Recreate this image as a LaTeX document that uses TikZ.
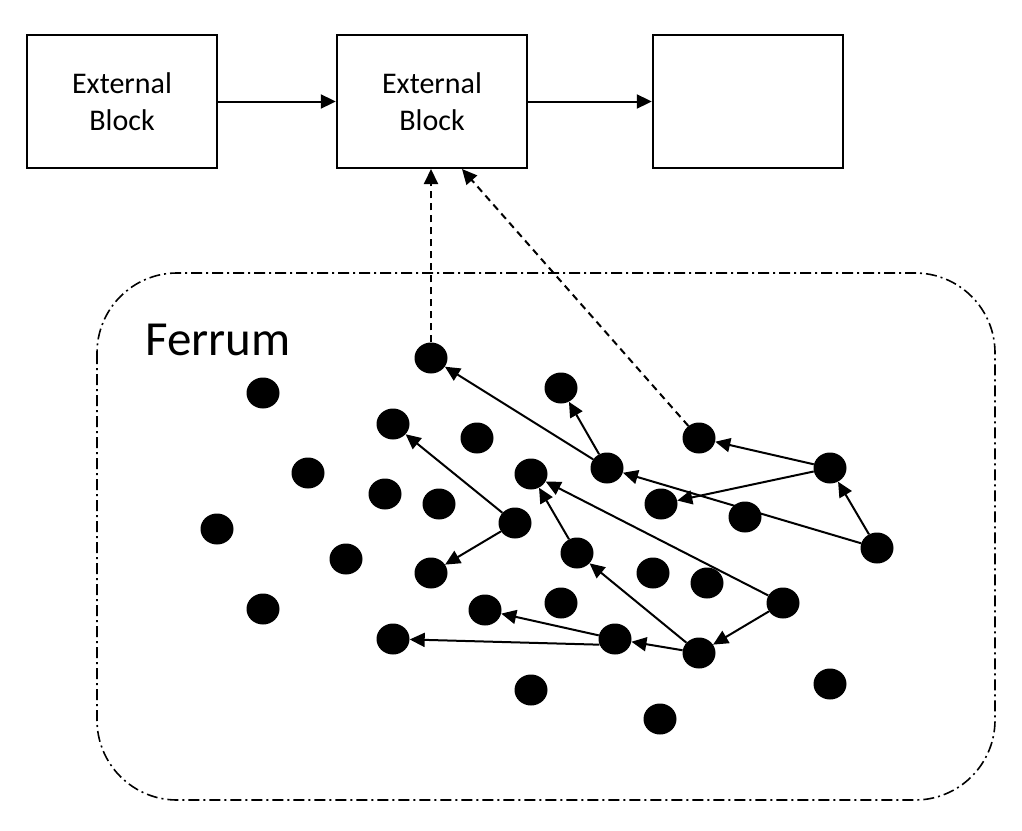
\documentclass[tikz,border=0pt]{standalone}
\usepackage{fontspec}
\setmainfont{Carlito}
\usetikzlibrary{shapes.geometric,arrows.meta}
\begin{document}
\begin{tikzpicture}[x=1pt,y=-1pt,
  blockbox/.style={draw,line width=2.4pt,minimum width=190pt,minimum height=133pt,inner sep=0pt,align=center,font=\fontsize{30}{37}\selectfont},
  dot/.style={ellipse,fill=black,minimum width=33pt,minimum height=31pt,inner sep=0pt},
  link/.style={line width=2pt,-{Triangle[length=15pt,width=14pt]}},
  dlink/.style={line width=2pt,dash pattern=on 7pt off 5pt,-{Triangle[length=15pt,width=14pt]}}]
\useasboundingbox (0,0) rectangle (1022,830);
% rounded dash-dot region
\draw[line width=1.6pt,dash pattern=on 11pt off 4pt on 2pt off 4pt,rounded corners=80pt] (97,273) rectangle (995,800);
\node[anchor=base west,inner sep=0pt,font=\fontsize{49}{55}\selectfont] (ferrum) at (145,355) {Ferrum};
% blocks
\node[blockbox] (b1) at (122,101.5) {External\\Block};
\node[blockbox] (b2) at (432,101.5) {External\\Block};
\node[blockbox] (b3) at (748,101.5) {};
\draw[link] (b1) -- (b2);
\draw[link] (b2) -- (b3);
% dots
\node[dot] (d1) at (431,358) {};
\node[dot] (d2) at (263,393) {};
\node[dot] (d3) at (561,388) {};
\node[dot] (d4) at (393,424) {};
\node[dot] (d5) at (477,438) {};
\node[dot] (d6) at (699,438) {};
\node[dot] (d7) at (308,473) {};
\node[dot] (d8) at (531,474) {};
\node[dot] (d9) at (607,468) {};
\node[dot] (d10) at (830,468) {};
\node[dot] (d11) at (385,494) {};
\node[dot] (d12) at (439,504) {};
\node[dot] (d13) at (661,504) {};
\node[dot] (d14) at (745,517) {};
\node[dot] (d15) at (217,529) {};
\node[dot] (d16) at (515,523) {};
\node[dot] (d17) at (877,548) {};
\node[dot] (d18) at (346,559) {};
\node[dot] (d19) at (577,553) {};
\node[dot] (d20) at (431,573) {};
\node[dot] (d21) at (653,573) {};
\node[dot] (d22) at (707,583) {};
\node[dot] (d23) at (783,603) {};
\node[dot] (d24) at (485,610) {};
\node[dot] (d25) at (561,603) {};
\node[dot] (d26) at (263,609) {};
\node[dot] (d27) at (615,639) {};
\node[dot] (d28) at (393,639) {};
\node[dot] (d29) at (699,653) {};
\node[dot] (d30) at (531,690) {};
\node[dot] (d31) at (830,684) {};
\node[dot] (d32) at (660,719) {};
% connectors between dots
\draw[link] (d9) -- (d1);
\draw[link] (d9) -- (d3);
\draw[link] (d16) -- (d4);
\draw[link] (d16) -- (d20);
\draw[link] (d19) -- (d8);
\draw[link] (d23) -- (d8);
\draw[link] (d23) -- (d29);
\draw[link] (d29) -- (d19);
\draw[link] (d29) -- (d27);
\draw[link] (d27) -- (d24);
\draw[link] (d27.200) -- (d28);
\draw[link] (d17) -- (d10);
\draw[link] (d17) -- (d9);
\draw[link] (d10) -- (d6);
\draw[link] (d10) -- (d13);
% dashed to block
\coordinate (t1) at (431,169);
\coordinate (t2) at (462,169);
\draw[dlink] (d1) -- (t1);
\draw[dlink] (d6) -- (t2);
\end{tikzpicture}
\end{document}
